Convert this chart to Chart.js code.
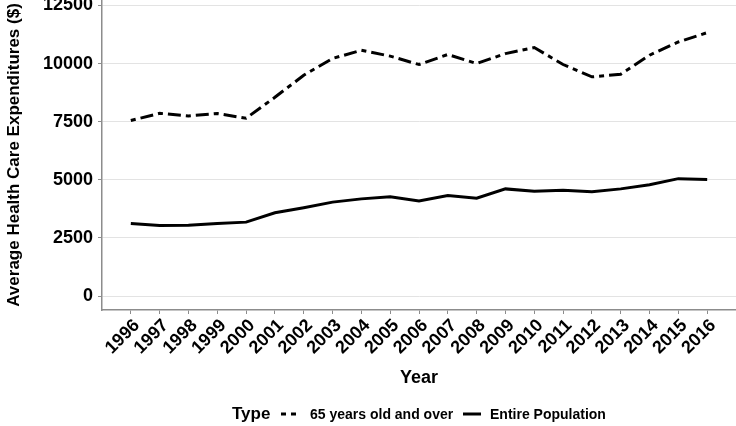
<!DOCTYPE html>
<html>
<head>
<meta charset="utf-8">
<script src="https://cdn.jsdelivr.net/npm/chart.js@4.4.1/dist/chart.umd.min.js"></script>
<style>
  html, body { margin: 0; padding: 0; background: #fff; }
  #wrap {
    position: relative; width: 736px; height: 426px; overflow: hidden;
    font-family: "Liberation Sans", Arial, sans-serif; font-weight: bold; color: #000;
  }
  #chart { position: absolute; left: 0; top: 0; }
  .lg { position: absolute; white-space: nowrap; line-height: 20px; }
  .lg svg { display: block; }
</style>
</head>
<body>
<div id="wrap">
  <canvas id="chart" width="736" height="426"></canvas>
  <div class="lg" style="left:232px; top:404px; font-size:17px;">Type</div>
  <div class="lg" style="left:281px; top:404px;"><svg width="18" height="20"><line x1="0" y1="10" x2="18" y2="10" stroke="#000" stroke-width="3" stroke-dasharray="5,5"/></svg></div>
  <div class="lg" id="lg1" style="left:310px; top:404px; font-size:14px;"></div>
  <div class="lg" style="left:463px; top:404px;"><svg width="18" height="20"><line x1="0" y1="10" x2="18" y2="10" stroke="#000" stroke-width="3"/></svg></div>
  <div class="lg" id="lg2" style="left:490px; top:404px; font-size:14px;"></div>
</div>
<script>
// data
const years = [1996, 1997, 1998, 1999, 2000, 2001, 2002, 2003, 2004, 2005, 2006,
               2007, 2008, 2009, 2010, 2011, 2012, 2013, 2014, 2015, 2016];
const seniors = [7550, 7860, 7750, 7850, 7650, 8550, 9500, 10220, 10570, 10320, 9960,
                 10390, 10000, 10430, 10690, 9960, 9430, 9540, 10360, 10930, 11330];
const entire = [3120, 3040, 3050, 3120, 3180, 3580, 3800, 4040, 4180, 4270, 4090,
                4320, 4210, 4610, 4510, 4550, 4490, 4610, 4790, 5050, 5010];
const yTicks = [0, 2500, 5000, 7500, 10000, 12500];
const seriesNames = ['65 years old and over', 'Entire Population'];

document.getElementById('lg1').textContent = seriesNames[0];
document.getElementById('lg2').textContent = seriesNames[1];

const font = (size) => ({ family: '"Liberation Sans", Arial, sans-serif', size: size, weight: 'bold' });
const axisGray = '#8c8c8c';

new Chart(document.getElementById('chart'), {
    type: 'line',
    data: {
        datasets: [
            {
                label: seriesNames[0],
                data: years.map((y, i) => ({ x: y, y: seniors[i] })),
                borderColor: '#000',
                borderWidth: 3,
                borderDash: [5, 5, 13, 5],
                pointRadius: 0,
                tension: 0,
            },
            {
                label: seriesNames[1],
                data: years.map((y, i) => ({ x: y, y: entire[i] })),
                borderColor: '#000',
                borderWidth: 3,
                pointRadius: 0,
                tension: 0,
            }
        ]
    },
    options: {
        responsive: false,
        animation: false,
        devicePixelRatio: 1,
        layout: { padding: 0 },
        plugins: { legend: { display: false }, tooltip: { enabled: false } },
        scales: {
            x: {
                type: 'linear',
                min: 1995,
                max: 2017,
                afterBuildTicks: s => { s.ticks = years.map(v => ({ value: v })); },
                afterFit: s => { s.height = 116; s.paddingLeft = 0; s.paddingRight = 0; },
                grid: { drawOnChartArea: false, tickLength: 4, tickColor: axisGray, tickWidth: 1 },
                border: { color: axisGray, width: 1.5 },
                ticks: {
                    autoSkip: false, minRotation: 45, maxRotation: 45, padding: 1, labelOffset: 6,
                    color: '#000', font: font(18), callback: v => String(v)
                },
                title: { display: true, text: 'Year', color: '#000', font: font(18), padding: { top: 0, bottom: 37 } }
            },
            y: {
                min: -600,
                max: 12735,
                afterBuildTicks: s => { s.ticks = yTicks.map(v => ({ value: v })); },
                afterFit: s => { s.width = 102; s.paddingTop = 0; s.paddingBottom = 0; },
                grid: { color: '#e3e3e3', lineWidth: 1, tickLength: 4, tickColor: axisGray },
                border: { color: axisGray, width: 1.5 },
                ticks: { padding: 5, color: '#000', font: font(18), callback: v => String(v) },
                title: {
                    display: true, text: 'Average Health Care Expenditures ($)',
                    color: '#000', font: font(17), padding: { top: 4, bottom: 0 }
                }
            }
        }
    }
});
</script>
</body>
</html>
